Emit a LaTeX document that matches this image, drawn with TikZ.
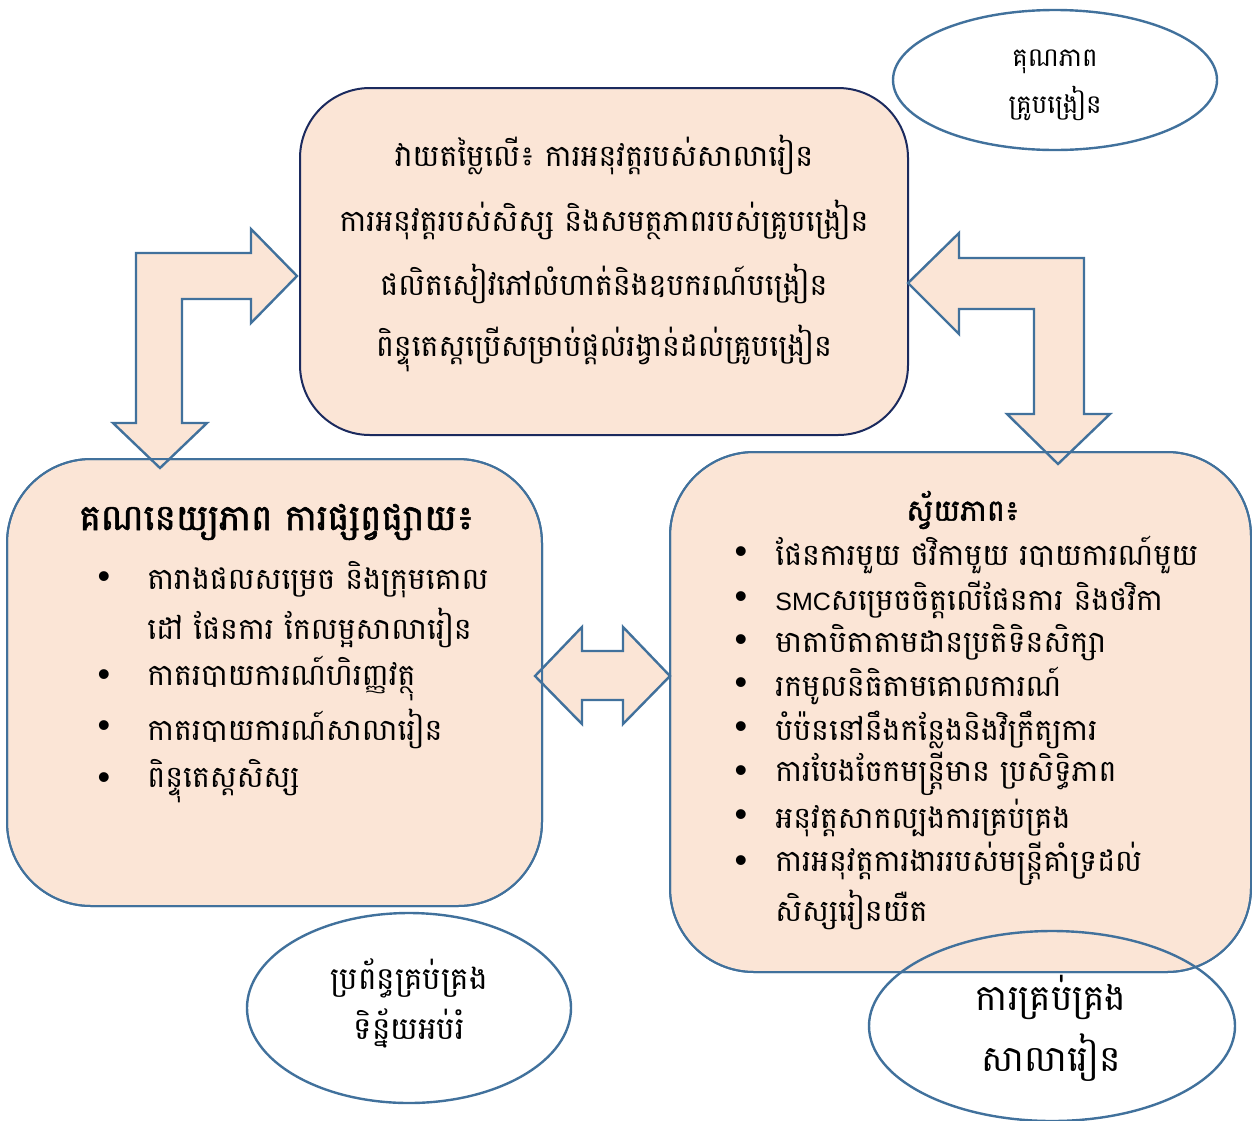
\documentclass[tikz,border=0pt]{standalone}
\usepackage{fontspec}
\newfontfamily\kh[Script=Khmer]{Battambang}
\newfontfamily\khb[Script=Khmer,FakeBold=1.5]{Battambang}
\newfontfamily\lat{Liberation Sans}
\definecolor{peach}{HTML}{FBE5D6}
\definecolor{steel}{HTML}{41719C}
\definecolor{navy}{HTML}{1B2A5E}
\tikzset{
  box/.style={draw=steel,fill=peach,line width=1pt},
  arrowshape/.style={draw=steel,fill=peach,line width=1.2pt,line join=miter},
  oval/.style={draw=steel,line width=1.2pt},
  txt/.style={font=\kh\fontsize{15}{18}\selectfont,inner sep=0pt},
  item/.style={txt,anchor=west},
  dot/.style={font=\lat\fontsize{18}{20}\selectfont,inner sep=0pt},
}
\begin{document}
\begin{tikzpicture}[x=0.5pt,y=-0.5pt]
\useasboundingbox (0,0) rectangle (1252,1120);
% boxes
\draw[box,draw=navy,rounded corners=35pt] (300,88) rectangle (908,435);
\draw[box,rounded corners=42pt] (7,459) rectangle (542,906);
\draw[box,rounded corners=42pt] (670,452) rectangle (1251,972);
% arrows
\draw[arrowshape] (136,253) -- (251,253) -- (251,229) -- (297,276) -- (251,323) -- (251,299) -- (182,299) -- (182,423) -- (207,423) -- (160,468) -- (113,423) -- (136,423) -- cycle;
\draw[arrowshape] (908,283) -- (959,233) -- (959,258) -- (1084,258) -- (1084,414) -- (1110,414) -- (1058,464) -- (1007,414) -- (1034,414) -- (1034,309) -- (959,309) -- (959,334) -- cycle;
\draw[arrowshape] (535,676) -- (582,627) -- (582,651) -- (623,651) -- (623,627) -- (670,676) -- (623,724) -- (623,700) -- (582,700) -- (582,724) -- cycle;
% box borders redrawn over arrows
\draw[draw=steel,line width=1pt,rounded corners=42pt] (7,459) rectangle (542,906);
\draw[draw=steel,line width=1pt,rounded corners=42pt] (670,452) rectangle (1251,972);
% top box text
\node[txt] (t1) at (604,155) {វាយតម្លៃលើ៖ ការអនុវត្តរបស់សាលារៀន};
\node[txt] (t2) at (604,220) {ការអនុវត្តរបស់សិស្ស និងសមត្ថភាពរបស់គ្រូបង្រៀន};
\node[txt] (t3) at (604,284) {ផលិតសៀវភៅលំហាត់និងឧបករណ៍បង្រៀន};
\node[txt] (t4) at (604,348) {ពិន្ទុតេស្តប្រើសម្រាប់ផ្តល់រង្វាន់ដល់គ្រូបង្រៀន};
% left box text
\node[txt,anchor=west,font=\khb\fontsize{18}{21}\selectfont] (lt) at (79,522) {គណនេយ្យភាព ការផ្សព្វផ្សាយ៖};
\node[dot] (lb1) at (104,580) {•};
\node[item] (l1) at (147,580) {តារាងផលសម្រេច និងក្រុមគោល};
\node[item] (l1b) at (147,628) {ដៅ ផែនការ កែលម្អសាលារៀន};
\node[dot] (lb2) at (104,678) {•};
\node[item] (l2) at (147,678) {កាតរបាយការណ៍ហិរញ្ញវត្ថុ};
\node[dot] (lb3) at (104,729) {•};
\node[item] (l3) at (147,729) {កាតរបាយការណ៍សាលារៀន};
\node[dot] (lb4) at (104,781) {•};
\node[item] (l4) at (147,781) {ពិន្ទុតេស្តសិស្ស};
% right box text
\node[txt,font=\khb\fontsize{15}{18}\selectfont] (rt) at (963,510) {ស្វ័យភាព៖};
\node[dot] (rb1) at (741,555) {•};
\node[item] (r1) at (775,555) {ផែនការមួយ ថវិកាមួយ របាយការណ៍មួយ};
\node[dot] (rb2) at (741,600) {•};
\node[item] (r2) at (775,600) {{\lat\fontsize{12.5}{15}\selectfont SMC}សម្រេចចិត្តលើផែនការ និងថវិកា};
\node[dot] (rb3) at (741,643) {•};
\node[item] (r3) at (775,643) {មាតាបិតាតាមដានប្រតិទិនសិក្សា};
\node[dot] (rb4) at (741,686) {•};
\node[item] (r4) at (775,686) {រកមូលនិធិតាមគោលការណ៍};
\node[dot] (rb5) at (741,730) {•};
\node[item] (r5) at (775,730) {បំប៉ននៅនឹងកន្លែងនិងវិក្រឹត្យការ};
\node[dot] (rb6) at (741,774) {•};
\node[item] (r6) at (775,774) {ការបែងចែកមន្ត្រីមាន ប្រសិទ្ធិភាព};
\node[dot] (rb7) at (741,818) {•};
\node[item] (r7) at (775,818) {អនុវត្តសាកល្បងការគ្រប់គ្រង};
\node[dot] (rb8) at (741,864) {•};
\node[item] (r8) at (775,864) {ការអនុវត្តការងាររបស់មន្ត្រីគាំទ្រដល់};
\node[item] (r8b) at (775,910) {សិស្សរៀនយឺត};
% ellipses
\draw[oval] (1055,80) ellipse [x radius=162, y radius=70];
\node[txt,font=\kh\fontsize{13}{15}\selectfont] (e1a) at (1055,62) {គុណភាព};
\node[txt,font=\kh\fontsize{13}{15}\selectfont] (e1b) at (1055,103) {គ្រូបង្រៀន};
\draw[oval] (409,1008) ellipse [x radius=162, y radius=95];
\node[txt,font=\kh\fontsize{15.5}{18}\selectfont] (e2a) at (409,978) {ប្រព័ន្ធគ្រប់គ្រង};
\node[txt,font=\kh\fontsize{15.5}{18}\selectfont] (e2b) at (409,1028) {ទិន្ន័យអប់រំ};
\draw[oval] (1052,1026) ellipse [x radius=183, y radius=95];
\node[txt,font=\kh\fontsize{18}{21}\selectfont] (e3a) at (1051,997) {ការគ្រប់គ្រង};
\node[txt,font=\kh\fontsize{18}{21}\selectfont] (e3b) at (1051,1058) {សាលារៀន};
\end{tikzpicture}
\end{document}
